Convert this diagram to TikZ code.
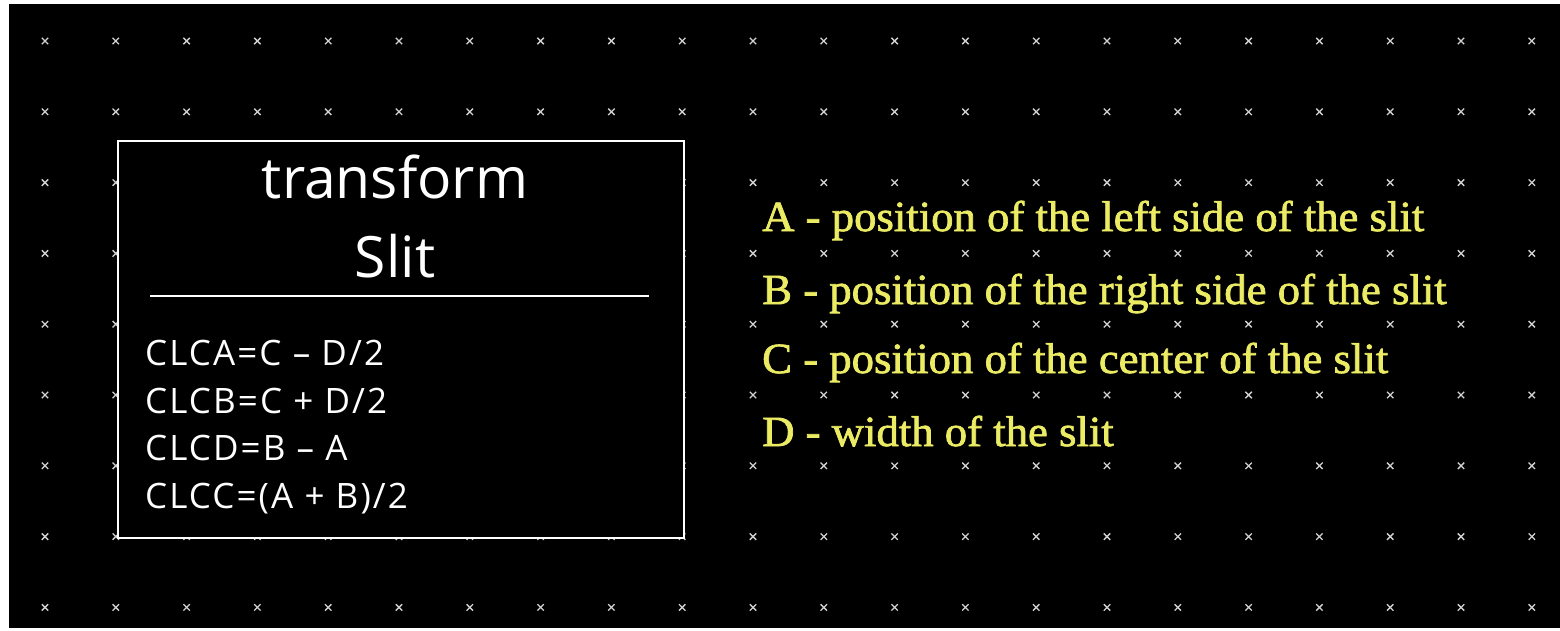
\documentclass[tikz,border=0pt]{standalone}
\usepackage{fontspec}
\setmainfont{Liberation Serif}[FakeBold=1.6]
\newfontfamily\titlefont{Open Sans}
\newfontfamily\formfont{Open Sans}[LetterSpace=6]
\definecolor{slityellow}{RGB}{236,236,100}
\definecolor{markgray}{RGB}{210,210,210}
\begin{document}
\begin{tikzpicture}[x=1pt,y=-1pt,
  gridmark/.style={draw=markgray,line width=1.3pt},
  slitbox/.style={draw=white,fill=black,line width=2pt},
  titletext/.style={text=white,font=\titlefont\fontsize{57}{60}\selectfont,inner sep=0pt,anchor=base},
  formtext/.style={text=white,font=\formfont\fontsize{35}{40}\selectfont,inner sep=0pt,anchor=base west},
  desctext/.style={text=slityellow,font=\fontsize{43}{46}\selectfont,inner sep=0pt,anchor=base west,xscale=1.04,transform shape}]
\useasboundingbox (0,0) rectangle (1560,630);
\fill[white] (0,0) rectangle (1560,630);
\fill[black] (9,4) rectangle (1560,628);
% grid of marks
\foreach \i in {0,...,21}{
  \foreach \j in {0,...,8}{
    \begin{scope}[shift={({45+70.8*\i},{41+70.8*\j})}]
      \draw[gridmark] (-3.2,-3.2) -- (3.2,3.2) (-3.2,3.2) -- (3.2,-3.2);
    \end{scope}
  }
}
% block
\node[slitbox,minimum width=566pt,minimum height=397pt,inner sep=0pt,anchor=north west] (box) at (117,140) {};
\node[titletext] (t1) at (395,198) {transform};
\node[titletext] (t2) at (395,277) {Slit};
\coordinate (sepL) at (150,296);
\coordinate (sepR) at (649,296);
\draw[white,line width=2pt] (sepL) -- (sepR);
\node[formtext] (f1) at (145,365) {CLCA=C – D/2};
\node[formtext] (f2) at (145,413) {CLCB=C + D/2};
\node[formtext] (f3) at (145,460) {CLCD=B – A};
\node[formtext] (f4) at (145,508) {CLCC=(A + B)/2};
% descriptions
\node[desctext] (d1) at (762,231) {A - position of the left side of the slit};
\node[desctext] (d2) at (762,304) {B - position of the right side of the slit};
\node[desctext] (d3) at (762,373) {C - position of the center of the slit};
\node[desctext] (d4) at (762,446) {D - width of the slit};
\end{tikzpicture}
\end{document}
